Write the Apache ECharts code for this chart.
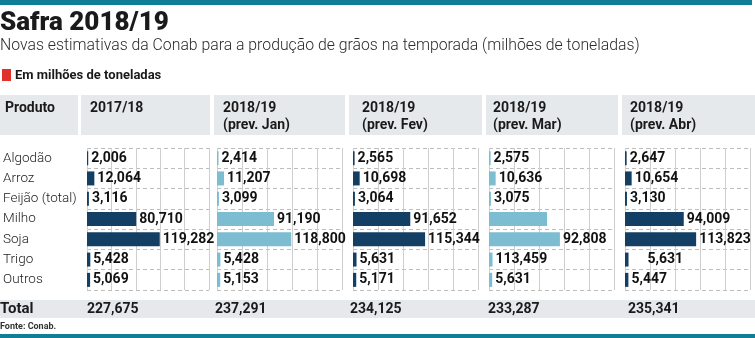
<!DOCTYPE html>
<html>
<head>
<meta charset="utf-8">
<script src="https://cdn.jsdelivr.net/npm/echarts@6/dist/echarts.min.js"></script>
<style>
  html, body { margin: 0; padding: 0; background: #fff; }
  #chart { width: 755px; height: 338px; }
</style>
</head>
<body>
<div id="chart"></div>
<script>
// ---- data ----
const categories = ['Algodão', 'Arroz', 'Feijão (total)', 'Milho', 'Soja', 'Trigo', 'Outros'];
const periods = ['2017/18', '2018/19\n(prev. Jan)', '2018/19\n(prev. Fev)', '2018/19\n(prev. Mar)', '2018/19\n(prev. Abr)'];
const s201718 = [2006, 12064, 3116, 80710, 119282, 5428, 5069];
const sJan = [2414, 11207, 3099, 91190, 118800, 5428, 5153];
const sFev = [2565, 10698, 3064, 91652, 115344, 5631, 5171];
const sMar = [2575, 10636, 3075, 92808, 113459, 5631, 5103];
const sAbr = [2647, 10654, 3130, 94009, 113823, 5631, 5447];
// labels as printed in the source (the March column labels are shifted in the original)
const labelsMar = ['2,575', '10,636', '3,075', '', '92,808', '113,459', '5,631'];
const totals = ['227,675', '237,291', '234,125', '233,287', '235,341'];
const axisTicks = [0, 40000, 80000, 120000, 160000, 200000];

const seriesData = [s201718, sJan, sFev, sMar, sAbr];
const seriesLabels = [null, null, null, labelsMar, null];

// ---- layout / style ----
const DARK = '#123f63', LIGHT = '#7cbdd1';
const barColors = [DARK, LIGHT, DARK, LIGHT, DARK];
const gridLefts = [84, 217, 353, 489, 625];
const headerTextX = [90, 223, 362, 493, 630];
const headerCells = [[0, 78], [81, 210], [214, 345], [349, 482], [486, 618], [622, 755]];
const GRAY = '#e6e9ec';
const FONT = 'Roboto, "Noto Sans", sans-serif';

const fmt = v => v.toLocaleString('en-US');

const grids = [], xAxes = [], yAxes = [], series = [];
seriesData.forEach((vals, i) => {
  grids.push({ left: gridLefts[i], width: 125, top: 148, height: 142 });
  xAxes.push({
    type: 'value', gridIndex: i, min: axisTicks[0], max: axisTicks[axisTicks.length - 1],
    interval: axisTicks[1] - axisTicks[0],
    axisLabel: { show: false }, axisTick: { show: false }, axisLine: { show: false },
    splitLine: { show: true, lineStyle: { color: '#cfcfcf', width: 1, type: 'solid' } }
  });
  yAxes.push({
    type: 'category', gridIndex: i, data: categories, inverse: true,
    axisTick: { show: false }, axisLine: { show: false },
    axisLabel: i === 0 ? {
      show: true, align: 'left', margin: 84, fontFamily: FONT, fontSize: 13.5,
      fontWeight: 300, color: '#222'
    } : { show: false },
    splitLine: { show: true, lineStyle: { color: '#bdbdbd', type: [4, 3], width: 1 } }
  });
  const lbls = seriesLabels[i];
  series.push({
    type: 'bar', xAxisIndex: i, yAxisIndex: i, barWidth: 14, silent: true,
    itemStyle: { color: barColors[i] },
    data: vals.map((v, j) => {
      const item = { value: v };
      if (i === 4 && j === 5) item.label = { distance: 19 };
      return item;
    }),
    label: {
      show: true, position: 'right', distance: 3,
      fontFamily: FONT, fontWeight: 'bold', fontSize: 14, color: '#111',
      formatter: p => lbls ? lbls[p.dataIndex] : fmt(p.value)
    }
  });
});

function txt(text, x, y, size, weight, color, extra) {
  return Object.assign({
    type: 'text', silent: true,
    style: Object.assign({
      text: text, x: x, y: y, fill: color,
      font: weight + ' ' + size + 'px ' + FONT,
      textVerticalAlign: 'middle', verticalAlign: 'middle'
    }, extra || {})
  });
}

const graphics = [];
graphics.push({ type: 'rect', silent: true, shape: { x: 0, y: 0, width: 752, height: 5 }, style: { fill: '#117e98' } });
graphics.push({ type: 'rect', silent: true, shape: { x: 0, y: 334, width: 755, height: 4 }, style: { fill: '#117e98' } });
graphics.push(txt('Safra 2018/19', 0, 23, 26, '900', '#1a1a1a'));
graphics.push(txt('Novas estimativas da Conab para a produção de grãos na temporada (milhões de toneladas)', 0, 46, 15.8, '300', '#2a2a2a'));
graphics.push({ type: 'rect', silent: true, shape: { x: 2, y: 69, width: 9, height: 12 }, style: { fill: '#e0312b' } });
graphics.push(txt('Em milhões de toneladas', 15, 76, 13, 'bold', '#1a1a1a'));
headerCells.forEach(c => {
  graphics.push({ type: 'rect', silent: true, shape: { x: c[0], y: 95, width: c[1] - c[0], height: 40 }, style: { fill: GRAY } });
});
graphics.push(txt('Produto', 5, 108, 14, 'bold', '#1a1a1a'));
periods.forEach((p, i) => {
  graphics.push({
    type: 'text', silent: true,
    style: { text: p, x: headerTextX[i], y: 99.5, fill: '#1a1a1a', font: 'bold 14px ' + FONT,
      lineHeight: 17, textVerticalAlign: 'top', verticalAlign: 'top' }
  });
});
graphics.push({ type: 'rect', silent: true, shape: { x: 0, y: 300, width: 755, height: 18 }, style: { fill: GRAY } });
graphics.push(txt('Total', 0, 309, 15, 'bold', '#1a1a1a'));
const totalX = [87, 215, 350, 488, 628];
totals.forEach((t, i) => graphics.push(txt(t, totalX[i], 309, 14, 'bold', '#1a1a1a')));
graphics.push(txt('Fonte: Conab.', 0, 327, 9, 'bold', '#333'));

const chart = echarts.init(document.getElementById('chart'), null, { renderer: 'canvas' });
chart.setOption({
  animation: false,
  backgroundColor: '#fff',
  grid: grids, xAxis: xAxes, yAxis: yAxes, series: series,
  graphic: { elements: graphics }
});
</script>
</body>
</html>
